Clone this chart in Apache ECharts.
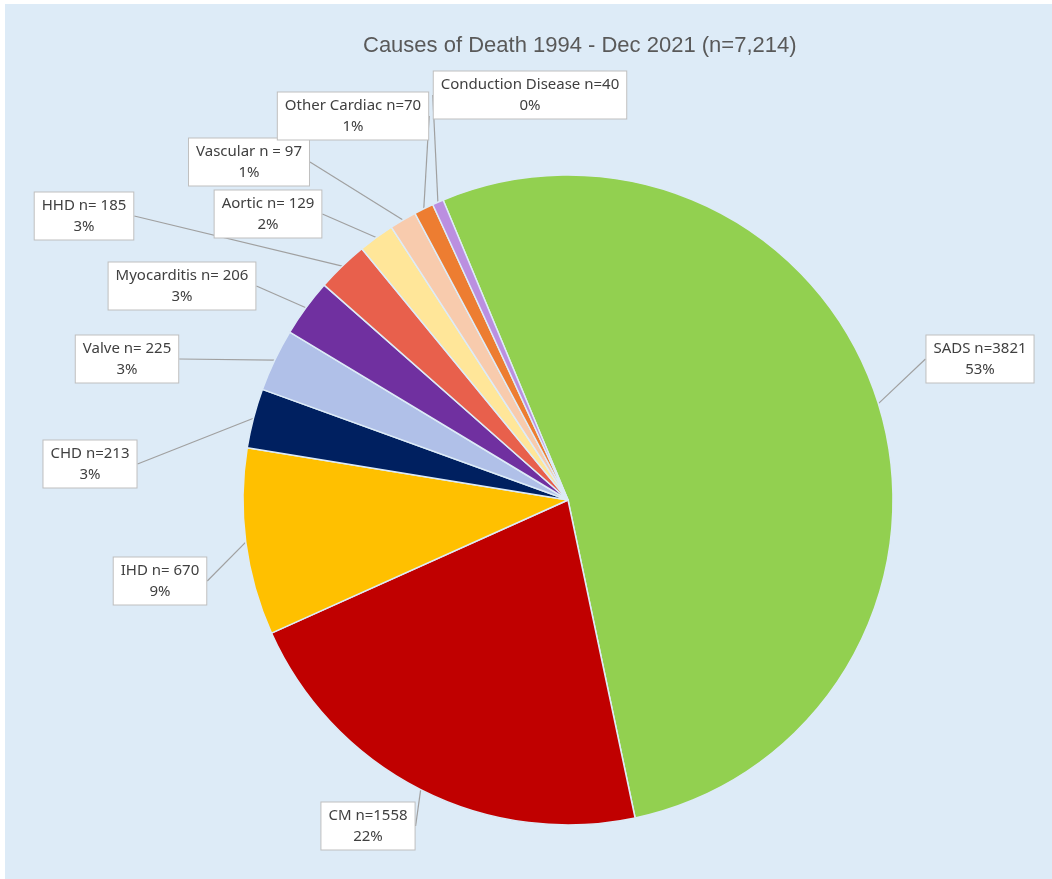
<!DOCTYPE html>
<html>
<head>
<meta charset="utf-8">
<script src="https://cdn.jsdelivr.net/npm/echarts@6/dist/echarts.min.js"></script>
<style>
  html, body { margin: 0; padding: 0; background: #ffffff; }
  #main { position: absolute; left: 5px; top: 4px; width: 1047px; height: 875px; background: #DDEBF7; }
</style>
</head>
<body>
<div id="main"></div>
<script>
const titleText = "Causes of Death 1994 - Dec 2021 (n=7,214)";
const names = [
  "SADS n=3821", "CM n=1558", "IHD n= 670", "CHD n=213", "Valve n= 225",
  "Myocarditis n= 206", "HHD n= 185", "Aortic n= 129", "Vascular n = 97",
  "Other Cardiac n=70", "Conduction Disease n=40"
];
const values = [3821, 1558, 670, 213, 225, 206, 185, 129, 97, 70, 40];
const pctLabels = ["53%", "22%", "9%", "3%", "3%", "3%", "3%", "2%", "1%", "1%", "0%"];
const colors = [
  "#92D050", "#C00000", "#FFC000", "#002060", "#B0C0E8",
  "#7030A0", "#E8604C", "#FFE699", "#F8CBAD", "#ED7D31", "#BB8FE0"
];
// label box centres (page pixels)
const labelPos = [
  [980, 359], [368, 826], [160, 581], [90, 464], [127, 359],
  [182, 286], [84, 216], [268, 214], [249, 162], [353, 116], [530, 95]
];
const OFF_X = 5, OFF_Y = 4;

const chart = echarts.init(document.getElementById("main"));
chart.setOption({
  animation: false,
  title: {
    text: titleText,
    left: 358 - OFF_X,
    top: 30 - OFF_Y,
    textStyle: { fontFamily: "Liberation Sans", fontSize: 22, fontWeight: "normal", color: "#595959" }
  },
  series: [{
    type: "pie",
    center: [568 - OFF_X, 500 - OFF_Y],
    radius: 325,
    startAngle: 112.6,
    clockwise: true,
    avoidLabelOverlap: false,
    data: names.map((n, i) => ({ name: n, value: values[i], itemStyle: { color: colors[i] } })),
    itemStyle: { borderColor: "#DDEBF7", borderWidth: 1.5 },
    label: {
      show: true,
      position: "outside",
      formatter: (p) => p.name + "\n" + pctLabels[p.dataIndex],
      fontFamily: "Noto Sans",
      fontSize: 15,
      lineHeight: 21,
      color: "#404040",
      align: "center",
      backgroundColor: "#ffffff",
      borderColor: "#BFBFBF",
      borderWidth: 1,
      padding: [3, 7, 2, 7]
    },
    labelLine: { show: true, length: 10, length2: 0, lineStyle: { color: "#A0A0A0", width: 1.2 } },
    labelLayout: (params) => ({
      x: labelPos[params.dataIndex][0] - OFF_X,
      y: labelPos[params.dataIndex][1] - OFF_Y,
      align: "center",
      verticalAlign: "middle"
    }),
    emphasis: { disabled: true }
  }]
});
</script>
</body>
</html>
